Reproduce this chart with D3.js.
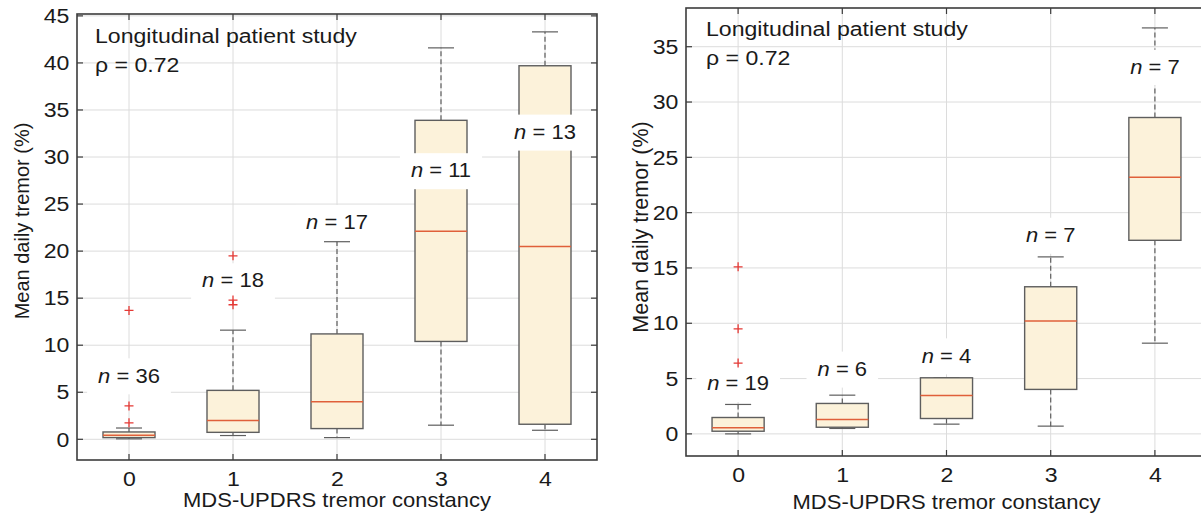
<!DOCTYPE html>
<html><head><meta charset="utf-8">
<script src="https://cdn.jsdelivr.net/npm/d3@7"></script>
<style>
html,body{margin:0;padding:0;background:#fff;}
svg{display:block;font-family:"Liberation Sans",Arial,Helvetica,sans-serif;}
</style></head>
<body><svg id="c" width="1201" height="514"></svg>
<script>
// ---- data ----
const categories = [0, 1, 2, 3, 4];
const yTicksLeft = [0, 5, 10, 15, 20, 25, 30, 35, 40, 45];
const yTicksRight = [0, 5, 10, 15, 20, 25, 30, 35];

// Left panel (boxplot statistics per category)
const leftLow    = [0.05, 0.4, 0.18, 1.5, 0.96];
const leftQ1     = [0.18, 0.74, 1.14, 10.4, 1.6];
const leftMedian = [0.43, 2.0, 4.0, 22.1, 20.5];
const leftQ3     = [0.78, 5.2, 11.2, 33.9, 39.7];
const leftHigh   = [1.2, 11.6, 21.0, 41.6, 43.3];
const leftOutliers = [[13.7, 3.55, 1.75], [19.5, 14.8, 14.3], [], [], []];
const leftN      = [36, 18, 17, 11, 13];
const leftNPos   = [6.8, 16.9, 23.1, 28.6, 32.7];

// Right panel
const rightLow    = [0.0, 0.49, 0.88, 0.7, 8.2];
const rightQ1     = [0.24, 0.6, 1.39, 4.02, 17.5];
const rightMedian = [0.55, 1.3, 3.47, 10.2, 23.2];
const rightQ3     = [1.48, 2.75, 5.07, 13.3, 28.6];
const rightHigh   = [2.66, 3.5, 5.07, 16.0, 36.7];
const rightOutliers = [[15.1, 9.5, 6.4], [], [], [], []];
const rightN      = [19, 6, 4, 7, 7];
const rightNPos   = [4.6, 5.9, 7.1, 18.0, 33.2];

const titleText = "Longitudinal patient study";
const rhoText = "\u03c1 = 0.72";
const xLabel = "MDS-UPDRS tremor constancy";
const yLabel = "Mean daily tremor (%)";

// ---- drawing ----
const svg = d3.select("#c");
const SX = 1.1; // horizontal text stretch seen in the reference
const C = {
  axis: "#3c3c3c", grid: "#dcdcdc", boxFill: "#fcf2da", boxStroke: "#5e5e5e",
  median: "#e0603a", outlier: "#e53935", text: "#1a1a1a"
};

function placeText(sel, px, py) {
  return sel.attr("x", 0).attr("y", 0).attr("transform", `translate(${px},${py}) scale(${SX},1)`);
}

function panel(cfg) {
  const g = svg.append("g");
  const x = d3.scaleLinear().domain([-0.5, 4.5]).range([cfg.left, cfg.right]);
  const y = d3.scaleLinear().domain(cfg.ydom).range([cfg.bottom, cfg.top]);
  const bw = x(0.25) - x(0);

  const clipId = "clip" + cfg.id;
  svg.append("clipPath").attr("id", clipId).append("rect")
    .attr("x", cfg.left).attr("y", cfg.top)
    .attr("width", cfg.right - cfg.left).attr("height", cfg.bottom - cfg.top);
  const inner = g.append("g").attr("clip-path", `url(#${clipId})`);

  // grid
  inner.selectAll(".gy").data(cfg.yticks).join("line")
    .attr("x1", cfg.left).attr("x2", cfg.right)
    .attr("y1", d => y(d)).attr("y2", d => y(d))
    .attr("stroke", C.grid).attr("stroke-width", 1);
  inner.selectAll(".gx").data(categories).join("line")
    .attr("x1", d => x(d)).attr("x2", d => x(d))
    .attr("y1", cfg.top).attr("y2", cfg.bottom)
    .attr("stroke", C.grid).attr("stroke-width", 1);

  const rows = categories.map((c, i) => ({
    c, low: cfg.low[i], q1: cfg.q1[i], med: cfg.med[i], q3: cfg.q3[i], high: cfg.high[i],
    out: cfg.out[i], n: cfg.n[i], npos: cfg.npos[i]
  }));

  rows.forEach(r => {
    const cx = x(r.c);
    inner.append("line").attr("x1", cx).attr("x2", cx).attr("y1", y(r.q3)).attr("y2", y(r.high))
      .attr("stroke", C.boxStroke).attr("stroke-width", 1.2).attr("stroke-dasharray", "5,3");
    inner.append("line").attr("x1", cx).attr("x2", cx).attr("y1", y(r.q1)).attr("y2", y(r.low))
      .attr("stroke", C.boxStroke).attr("stroke-width", 1.2).attr("stroke-dasharray", "5,3");
    [r.low, r.high].forEach(v => inner.append("line")
      .attr("x1", cx - bw / 2).attr("x2", cx + bw / 2).attr("y1", y(v)).attr("y2", y(v))
      .attr("stroke", C.boxStroke).attr("stroke-width", 1.2));
    inner.append("rect").attr("x", cx - bw).attr("width", 2 * bw)
      .attr("y", y(r.q3)).attr("height", y(r.q1) - y(r.q3))
      .attr("fill", C.boxFill).attr("stroke", C.boxStroke).attr("stroke-width", 1.4);
    inner.append("line").attr("x1", cx - bw).attr("x2", cx + bw)
      .attr("y1", y(r.med)).attr("y2", y(r.med))
      .attr("stroke", C.median).attr("stroke-width", 1.5);
  });

  // n labels with white background
  rows.forEach(r => {
    const cx = x(r.c), cy = y(r.npos);
    const lg = inner.append("g");
    const bg = lg.append("rect").attr("fill", "#fff");
    const t = lg.append("text").attr("dy", "0.36em")
      .attr("text-anchor", "middle").attr("font-size", 20).attr("fill", C.text);
    placeText(t, cx, cy);
    t.append("tspan").attr("font-style", "italic").text("n");
    t.append("tspan").text(" = " + r.n);
    const w = t.node().getBBox().width * SX;
    bg.attr("x", cx - w / 2 - 11).attr("width", w + 22)
      .attr("y", cy - 17).attr("height", 36);
    lg.lower(); lg.raise();
  });

  // outliers drawn above label backgrounds
  rows.forEach(r => {
    const cx = x(r.c);
    r.out.forEach(v => {
      const py = y(v);
      inner.append("path").attr("d", `M${cx - 4.5},${py}H${cx + 4.5}M${cx},${py - 4.5}V${py + 4.5}`)
        .attr("stroke", C.outlier).attr("stroke-width", 1.3).attr("fill", "none");
    });
  });

  // title
  placeText(g.append("text"), cfg.titleX, cfg.titleY)
    .attr("font-size", 21).attr("fill", C.text).text(titleText);
  placeText(g.append("text"), cfg.titleX, cfg.titleY + 29)
    .attr("font-size", 21).attr("fill", C.text).text(rhoText);

  // frame & ticks
  const tl = 6;
  g.append("rect").attr("x", cfg.left).attr("y", cfg.top)
    .attr("width", cfg.right - cfg.left).attr("height", cfg.bottom - cfg.top)
    .attr("fill", "none").attr("stroke", C.axis).attr("stroke-width", 1.6);
  cfg.yticks.forEach(v => {
    g.append("line").attr("x1", cfg.left).attr("x2", cfg.left + tl).attr("y1", y(v)).attr("y2", y(v))
      .attr("stroke", C.axis).attr("stroke-width", 1.2);
    g.append("line").attr("x1", cfg.right).attr("x2", cfg.right - tl).attr("y1", y(v)).attr("y2", y(v))
      .attr("stroke", C.axis).attr("stroke-width", 1.2);
  });
  categories.forEach(c => {
    g.append("line").attr("x1", x(c)).attr("x2", x(c)).attr("y1", cfg.bottom).attr("y2", cfg.bottom - tl)
      .attr("stroke", C.axis).attr("stroke-width", 1.2);
    g.append("line").attr("x1", x(c)).attr("x2", x(c)).attr("y1", cfg.top).attr("y2", cfg.top + tl)
      .attr("stroke", C.axis).attr("stroke-width", 1.2);
  });

  // tick labels
  const yAxis = d3.axisLeft(y).tickValues(cfg.yticks).tickSize(0).tickPadding(7);
  const ya = g.append("g").attr("transform", `translate(${cfg.left},0)`).call(yAxis);
  ya.select(".domain").remove();
  ya.selectAll("text").attr("font-size", 21).attr("fill", C.text)
    .attr("font-family", '"Liberation Sans",Arial,sans-serif')
    .attr("transform", `scale(${SX},1)`);
  const xAxis = d3.axisBottom(x).tickValues(categories).tickFormat(d3.format("d")).tickSize(0).tickPadding(11);
  const xa = g.append("g").attr("transform", `translate(0,${cfg.bottom})`).call(xAxis);
  xa.select(".domain").remove();
  xa.selectAll("text").attr("font-size", 21).attr("fill", C.text)
    .attr("font-family", '"Liberation Sans",Arial,sans-serif')
    .attr("transform", `scale(${SX},1)`);

  // axis titles
  placeText(g.append("text"), (cfg.left + cfg.right) / 2, cfg.xLabelY)
    .attr("text-anchor", "middle").attr("font-size", 20).attr("fill", C.text).text(xLabel);
  g.append("text").attr("transform", `translate(${cfg.yLabelX},${cfg.yLabelY}) rotate(-90)`)
    .attr("text-anchor", "middle").attr("font-size", cfg.yLabelSize).attr("fill", C.text).text(yLabel);
}

panel({
  id: "L", left: 77, right: 597, top: 14, bottom: 460, ydom: [-2.2, 45.2], yticks: yTicksLeft,
  low: leftLow, q1: leftQ1, med: leftMedian, q3: leftQ3, high: leftHigh, out: leftOutliers,
  n: leftN, npos: leftNPos, titleX: 95, titleY: 43, xLabelY: 507, yLabelX: 29, yLabelY: 221, yLabelSize: 20
});
panel({
  id: "R", left: 686, right: 1207, top: 8, bottom: 456, ydom: [-2.0, 38.5], yticks: yTicksRight,
  low: rightLow, q1: rightQ1, med: rightMedian, q3: rightQ3, high: rightHigh, out: rightOutliers,
  n: rightN, npos: rightNPos, titleX: 706, titleY: 36, xLabelY: 509, yLabelX: 648, yLabelY: 227, yLabelSize: 21.5
});
</script></body></html>
